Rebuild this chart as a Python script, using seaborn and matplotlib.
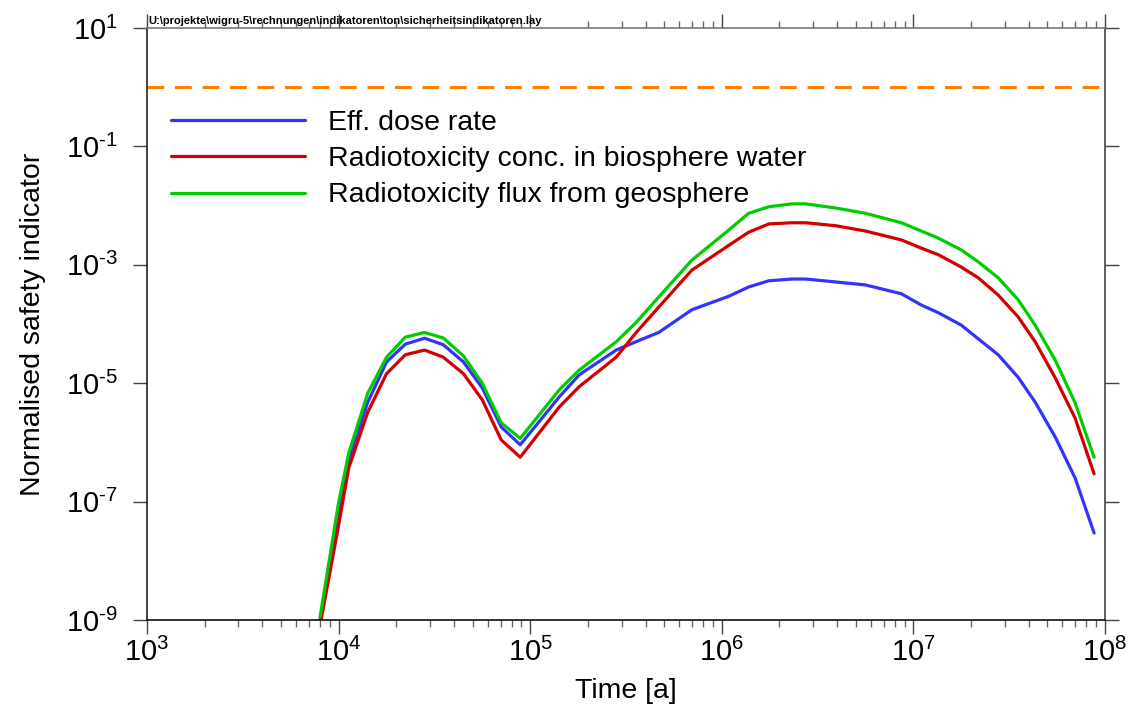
import numpy as np
import pandas as pd
import matplotlib
matplotlib.use("Agg")
import matplotlib.pyplot as plt
import seaborn as sns
from matplotlib.ticker import FixedLocator, FuncFormatter, NullFormatter

# ---------------- data ----------------
time_a = [8.0e3, 1.0e4, 1.13e4, 1.42e4, 1.78e4, 2.23e4, 2.81e4, 3.52e4, 4.48e4,
          5.62e4, 7.06e4, 8.87e4, 1.42e5, 1.80e5, 2.81e5, 3.56e5, 4.70e5, 6.98e5,
          1.09e6, 1.38e6, 1.76e6, 2.32e6, 2.74e6, 3.93e6, 5.62e6, 8.66e6, 1.10e7,
          1.35e7, 1.78e7, 2.18e7, 2.77e7, 3.52e7, 4.32e7, 5.50e7, 6.98e7, 8.77e7]

eff_dose_rate = [1.0e-9, 6.31e-8, 5.01e-7, 4.79e-6, 2.29e-5, 4.57e-5, 5.75e-5, 4.47e-5,
                 2.29e-5, 8.32e-6, 1.82e-6, 9.12e-7, 5.89e-6, 1.38e-5, 3.63e-5, 5.01e-5,
                 7.24e-5, 1.74e-4, 2.95e-4, 4.22e-4, 5.37e-4, 5.75e-4, 5.75e-4, 5.13e-4,
                 4.57e-4, 3.24e-4, 2.09e-4, 1.55e-4, 9.55e-5, 5.62e-5, 3.02e-5, 1.26e-5,
                 4.79e-6, 1.23e-6, 2.51e-7, 2.95e-8]

radtox_conc = [7.94e-10, 3.98e-8, 3.72e-7, 3.24e-6, 1.45e-5, 3.02e-5, 3.63e-5, 2.75e-5,
               1.45e-5, 5.25e-6, 1.10e-6, 5.62e-7, 3.98e-6, 8.71e-6, 2.75e-5, 7.08e-5,
               1.95e-4, 8.13e-4, 2.14e-3, 3.55e-3, 4.90e-3, 5.13e-3, 5.13e-3, 4.57e-3,
               3.72e-3, 2.63e-3, 1.91e-3, 1.48e-3, 9.12e-4, 6.03e-4, 3.09e-4, 1.32e-4,
               5.01e-5, 1.23e-5, 2.57e-6, 2.95e-7]

radtox_flux = [1.12e-9, 9.55e-8, 6.6e-7, 6.8e-6, 2.75e-5, 6.0e-5, 7.2e-5, 5.8e-5,
               2.9e-5, 1.0e-5, 2.14e-6, 1.17e-6, 7.76e-6, 1.66e-5, 5.0e-5, 1.05e-4,
               2.88e-4, 1.2e-3, 3.89e-3, 7.41e-3, 9.55e-3, 1.07e-2, 1.07e-2, 9.12e-3,
               7.41e-3, 5.13e-3, 3.72e-3, 2.82e-3, 1.78e-3, 1.12e-3, 6.03e-4, 2.57e-4,
               9.55e-5, 2.45e-5, 4.68e-6, 5.62e-7]

reference_limit = [1.0]

series_labels = ["Eff. dose rate",
                 "Radiotoxicity conc. in biosphere water",
                 "Radiotoxicity flux from geosphere"]
series_colors = ["#3333FF", "#D40000", "#00CC00"]
limit_color = "#FF8000"

x_ticks = [1e3, 1e4, 1e5, 1e6, 1e7, 1e8]
y_ticks = [1e-9, 1e-7, 1e-5, 1e-3, 1e-1, 1e1]

file_label = r"U:\projekte\wigru-5\rechnungen\indikatoren\ton\sicherheitsindikatoren.lay"

# ---------------- build long table ----------------
frames = []
for lab, vals in zip(series_labels, [eff_dose_rate, radtox_conc, radtox_flux]):
    frames.append(pd.DataFrame({"Time [a]": time_a, "value": vals, "series": lab}))
df = pd.concat(frames, ignore_index=True)

# ---------------- style ----------------
sns.set_theme(style="white")
plt.rcParams["font.family"] = ["Liberation Sans", "DejaVu Sans"]
plt.rcParams["mathtext.fontset"] = "custom"
plt.rcParams["mathtext.rm"] = "Liberation Sans"
plt.rcParams["mathtext.it"] = "Liberation Sans:italic"
plt.rcParams["mathtext.bf"] = "Liberation Sans:bold"
plt.rcParams["axes.unicode_minus"] = False
plt.rcParams["text.color"] = "black"
plt.rcParams["axes.labelcolor"] = "black"
plt.rcParams["xtick.labelcolor"] = "black"
plt.rcParams["ytick.labelcolor"] = "black"

fig = plt.figure(figsize=(11.31, 7.11), dpi=100)
ax = fig.add_axes([147/1131, 1 - 620/711, (1105-147)/1131, (620-28)/711])

ax.axhline(reference_limit[0], color=limit_color, lw=2.2, ls=(0, (5.5, 3.5)), zorder=1)

palette = dict(zip(series_labels, series_colors))
sns.lineplot(data=df, x="Time [a]", y="value", hue="series", palette=palette,
             hue_order=series_labels, estimator=None, sort=False, lw=2.3,
             legend=False, ax=ax)

ax.set_xscale("log")
ax.set_yscale("log")
ax.set_xlim(x_ticks[0], x_ticks[-1])
ax.set_ylim(y_ticks[0], y_ticks[-1])

def fmt(v, pos):
    e = int(round(np.log10(v)))
    if e < 0:
        return r"$\mathdefault{10^{\text{-}%d}}$" % (-e)
    return r"$\mathdefault{10^{%d}}$" % e

ax.xaxis.set_major_locator(FixedLocator(x_ticks))
minors = [m * 10.0**d for d in range(3, 8) for m in range(2, 10)]
ax.xaxis.set_minor_locator(FixedLocator(minors))
ax.xaxis.set_major_formatter(FuncFormatter(fmt))
ax.xaxis.set_minor_formatter(NullFormatter())
ax.yaxis.set_major_locator(FixedLocator(y_ticks))
ax.yaxis.set_minor_locator(FixedLocator([]))
ax.yaxis.set_major_formatter(FuncFormatter(fmt))

ax.tick_params(axis="x", which="major", direction="out", length=10, width=1.0,
               color="#444444", top=True, bottom=True, labelsize=21, pad=3)
ax.tick_params(axis="x", which="minor", direction="out", length=5, width=1.0,
               color="#666666", top=True, bottom=True)
ax.tick_params(axis="y", which="major", direction="out", length=10, width=1.0,
               color="#444444", left=True, right=True, labelsize=21, pad=11)

for side, c in [("left", "#222222"), ("bottom", "#111111"), ("top", "#777777"), ("right", "#444444")]:
    ax.spines[side].set_visible(True)
    ax.spines[side].set_color(c)
    ax.spines[side].set_linewidth(1.2)

ax.set_xlabel("Time [a]", fontsize=20.5, labelpad=8)
ax.set_ylabel("Normalised safety indicator", fontsize=20.5, labelpad=14)

handles = ax.get_lines()[1:4]
leg = ax.legend(handles, series_labels, loc="upper left",
                bbox_to_anchor=((171-147)/958, 1 - (110-28)/592),
                frameon=False, fontsize=20.5, handlelength=4.7, handletextpad=0.8,
                labelspacing=0.36, borderpad=0, borderaxespad=0)

fig.text(148/1131, 1 - 26/711, file_label, fontsize=8, fontweight="bold",
         family=["Liberation Sans Narrow", "Liberation Sans"], va="bottom", ha="left")

fig.savefig("out.png", dpi=100)
